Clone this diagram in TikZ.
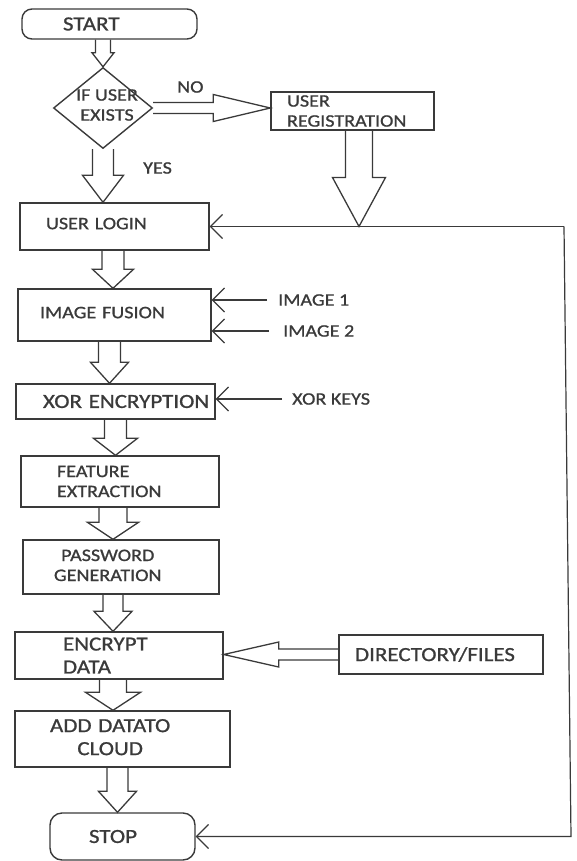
\documentclass[tikz,border=0pt]{standalone}
\usepackage{fontspec}
\setmainfont{Carlito}[FakeStretch=1.15,FakeBold=1]
\usetikzlibrary{calc,shapes.geometric,arrows.meta}
\definecolor{ink}{HTML}{3A3A3A}
\newcommand{\txtn}{\fontsize{17.5bp}{20bp}\selectfont}
\newcommand{\txtb}{\fontsize{20bp}{23bp}\selectfont}
\newcommand{\ctr}[1]{\begin{tabular}{@{}c@{}}#1\end{tabular}}
% hollow block arrow: tail, tip, half shaft, half head, head length
\newcommand{\fatarrow}[5]{%
	\coordinate (fa) at (#1);
	\coordinate (fb) at (#2);
	\coordinate (fh) at ($(fb)!#5bp!(fa)$);
	\draw[fat] ($(fa)!#3bp!90:(fb)$) -- ($(fh)!#3bp!90:(fb)$) -- ($(fh)!#4bp!90:(fb)$) -- (fb)
		-- ($(fh)!#4bp!-90:(fb)$) -- ($(fh)!#3bp!-90:(fb)$) -- ($(fa)!#3bp!-90:(fb)$);
}
\tikzset{
	box/.style={draw=ink, line width=1.4bp, rectangle, inner ysep=0pt, align=left, text=ink, font=\txtn},
	term/.style={box, rounded corners=10bp},
	decision/.style={draw=ink, line width=1.4bp, diamond, inner sep=0pt},
	lbl/.style={text=ink, font=\txtn, inner sep=0pt, anchor=west},
	feed/.style={draw=ink, line width=1.2bp, -{Straight Barb[length=12bp,width=24bp]}},
	fat/.style={draw=ink, line width=1.3bp, line join=miter},
}

\begin{document}
\begin{tikzpicture}[x=1bp, y=1bp]
	\useasboundingbox (0,0) rectangle (577,-861);

	\node[term, font=\txtb, minimum height=30bp, inner xsep=41bp, text width=93bp] (start) at (109.5,-24) {START};
	\node[decision, minimum width=99bp, minimum height=81bp] (dec) at (103,-108) {};
	\node[text=ink, font=\txtn, inner sep=0pt, align=center] (dectext) at (107,-105) {IF USER\\EXISTS};
	\node[box, minimum height=38bp, inner xsep=16bp, text width=131bp] (reg) at (352.5,-111) {USER\\REGISTRATION};
	\node[box, minimum height=47bp, inner xsep=26bp, text width=137bp] (login) at (114.5,-226.5) {\raisebox{6bp}{USER LOGIN}};
	\node[box, minimum height=52bp, inner xsep=22bp, text width=149bp] (fusion) at (114.5,-315) {\raisebox{5bp}{IMAGE FUSION}};
	\node[box, font=\txtb, minimum height=35bp, inner xsep=27bp, text width=145bp] (xor) at (115.5,-401.5) {\mbox{XOR ENCRYPTION}};
	\node[box, minimum height=51bp, inner xsep=36bp, text width=126bp] (feature) at (120,-481.5) {FEATURE\\EXTRACTION};
	\node[box, minimum height=54bp, inner xsep=31bp, text width=134bp] (password) at (121,-567) {\ctr{PASSWORD\\GENERATION}};
	\node[box, font=\txtb, minimum height=47bp, inner xsep=48bp, text width=112bp] (encrypt) at (119,-655.5) {ENCRYPT\\DATA};
	\node[box, font=\txtb, minimum height=56bp, inner xsep=35bp, text width=145bp] (adddata) at (122.5,-739) {\ctr{ADD DATATO\\CLOUD}};
	\node[term, font=\txtb, rounded corners=12bp, minimum height=47bp, inner xsep=39bp, text width=67bp] (stop) at (122.5,-836.5) {STOP};
	\node[box, font=\txtb, minimum height=39bp, inner xsep=16bp, text width=172bp] (dir) at (441,-654.5) {DIRECTORY/FILES};

	\node[lbl] (no) at (177,-87) {NO};
	\node[lbl] (yes) at (143,-168) {YES};
	\node[lbl] (img1) at (278,-300) {IMAGE 1};
	\node[lbl] (img2) at (283,-331) {IMAGE 2};
	\node[lbl] (keys) at (292,-399) {XOR KEYS};

	\coordinate (axis) at (113,0);
	\coordinate (join) at (359,-226.5);
	\coordinate (fbtop) at (564,-226.5);
	\coordinate (fbbot) at (571,-836.5);

	% block arrows
	\fatarrow{dec.north |- start.south}{dec.north}{7.5}{11}{14}
	\fatarrow{dec.south}{fa |- login.north}{10.5}{20.5}{27}
	\fatarrow{dec.east}{fa -| reg.west}{5.5}{13.5}{57}
	\fatarrow{join |- reg.south}{join}{13.5}{26.5}{49}
	\fatarrow{login.south -| axis}{fa |- fusion.north}{11}{20.5}{19}
	\fatarrow{$(fusion.south)+(-5,0)$}{fa |- xor.north}{11}{19}{21}
	\fatarrow{xor.south}{fa |- feature.north}{11}{22}{17}
	\fatarrow{feature.south -| axis}{fa |- password.north}{14}{25.5}{17}
	\fatarrow{password.south -| axis}{fa |- encrypt.north}{10}{19}{20}
	\fatarrow{encrypt.south -| axis}{fa |- adddata.north}{13.5}{27.5}{18}
	\fatarrow{$(adddata.south)+(-5,0)$}{fa |- stop.north}{10.5}{19}{21}
	\fatarrow{dir.west}{fa -| encrypt.east}{5.5}{12.5}{55}

	% line arrows
	\draw[feed, shorten <=11bp] (img1.west) -- (img1.west -| fusion.east);
	\draw[feed, shorten <=14bp] (img2.west) -- (img2.west -| fusion.east);
	\draw[feed, shorten <=10bp] (keys.west) -- (keys.west -| xor.east);
	\draw[feed] (fbtop) -- (login.east);
	\draw[feed] (fbtop) -- (fbbot) -- (stop.east);
\end{tikzpicture}
\end{document}
